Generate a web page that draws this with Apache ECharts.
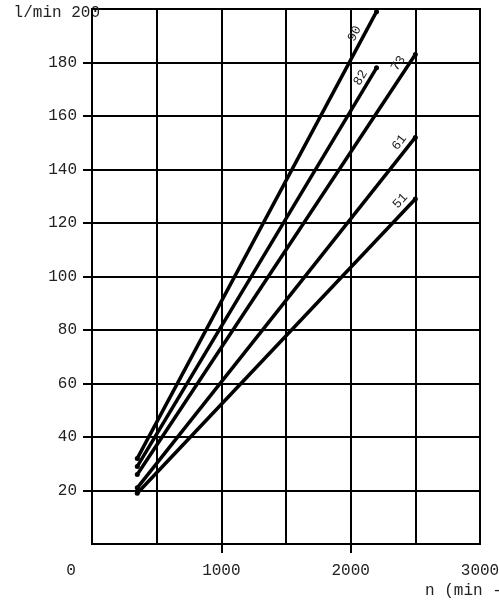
<!DOCTYPE html>
<html>
<head>
<meta charset="utf-8">
<script src="https://cdn.jsdelivr.net/npm/echarts@6/dist/echarts.min.js"></script>
<style>
  html, body { margin: 0; padding: 0; background: #fff; }
  #main { width: 499px; height: 600px; }
</style>
</head>
<body>
<div id="main"></div>
<script>
// curve names (the number written on each line)
var curveNames = ['90', '82', '73', '61', '51'];
// n in min^-1 : start and end of each line
var curveN = [
  [350, 2200],
  [350, 2200],
  [350, 2500],
  [350, 2500],
  [350, 2500]
];
// flow in l/min at those points
var curveQ = [
  [32, 199],
  [29, 178],
  [26, 183],
  [21, 152],
  [19, 129]
];
var xTickLabels = [0, 1000, 2000, 3000];
var yTickLabels = [20, 40, 60, 80, 100, 120, 140, 160, 180];

// where the curve number sits relative to the line end (screen px), and its angle
var labelOffsets = [[-22, 22], [-16, 10], [-17, 9], [-16, 5], [-15, 2]];
var labelAngles = [62, 59, 56, 52, 47];

var font = '"Liberation Mono", "DejaVu Sans Mono", monospace';
var ink = '#000';
var textInk = '#222';

// label offset is applied in the rotated frame, so turn it back first
function unrotate(d, deg) {
  var t = deg * Math.PI / 180;
  var c = Math.cos(t), s = Math.sin(t);
  return [d[0] * c - d[1] * s, d[0] * s + d[1] * c];
}

var myChart = echarts.init(document.getElementById('main'));

var series = curveNames.map(function (name, i) {
  var pts = curveN[i].map(function (n, j) {
    return [n, curveQ[i][j]];
  });
  var last = pts.length - 1;
  return {
    name: name,
    type: 'line',
    symbol: 'circle',
    symbolSize: 5,
    itemStyle: { color: ink },
    lineStyle: { color: ink, width: 3.5 },
    data: pts.map(function (p, j) {
      if (j !== last) return p;
      return {
        value: p,
        label: {
          show: true,
          formatter: name,
          position: 'inside',
          offset: unrotate(labelOffsets[i], labelAngles[i]),
          rotate: labelAngles[i],
          fontFamily: font,
          fontSize: 13,
          color: textInk
        }
      };
    })
  };
});

myChart.setOption({
  backgroundColor: '#fff',
  animation: false,
  grid: {
    left: 92, right: 19, top: 9, bottom: 56,
    outerBoundsMode: 'none',
    show: true, borderColor: ink, borderWidth: 2
  },
  xAxis: {
    type: 'value',
    min: 0,
    max: 3000,
    interval: 1000,
    name: 'n (min -1)',
    nameLocation: 'end',
    nameGap: -55,
    nameTextStyle: {
      fontFamily: font, fontSize: 16, color: textInk,
      align: 'left', verticalAlign: 'top', padding: [39, 0, 0, 0]
    },
    axisLine: { show: true, lineStyle: { color: ink, width: 2 } },
    axisTick: { show: true, length: 9, customValues: [1000, 2000], lineStyle: { color: ink, width: 2 } },
    axisLabel: {
      customValues: xTickLabels,
      margin: 19,
      fontFamily: font, fontSize: 16, color: textInk,
      formatter: function (v) {
        return v === 0 ? '{z|0}' : String(v);
      },
      rich: {
        z: { fontFamily: font, fontSize: 16, color: textInk, padding: [0, 42, 0, 0] }
      }
    },
    splitLine: { show: true, lineStyle: { color: ink, width: 2 } },
    minorTick: { show: false, splitNumber: 2 },
    minorSplitLine: { show: true, lineStyle: { color: ink, width: 2 } }
  },
  yAxis: {
    type: 'value',
    min: 0,
    max: 200,
    interval: 20,
    name: 'l/min 200',
    nameLocation: 'end',
    nameGap: -4,
    nameTextStyle: {
      fontFamily: font, fontSize: 16, color: textInk,
      align: 'right', verticalAlign: 'middle', padding: [0, -8, 0, 0]
    },
    axisLine: { show: true, lineStyle: { color: ink, width: 2 } },
    axisTick: { show: true, length: 9, customValues: yTickLabels, lineStyle: { color: ink, width: 2 } },
    axisLabel: {
      customValues: yTickLabels,
      margin: 15,
      fontFamily: font, fontSize: 16, color: textInk
    },
    splitLine: { show: true, lineStyle: { color: ink, width: 2 } }
  },
  series: series
});
</script>
</body>
</html>
